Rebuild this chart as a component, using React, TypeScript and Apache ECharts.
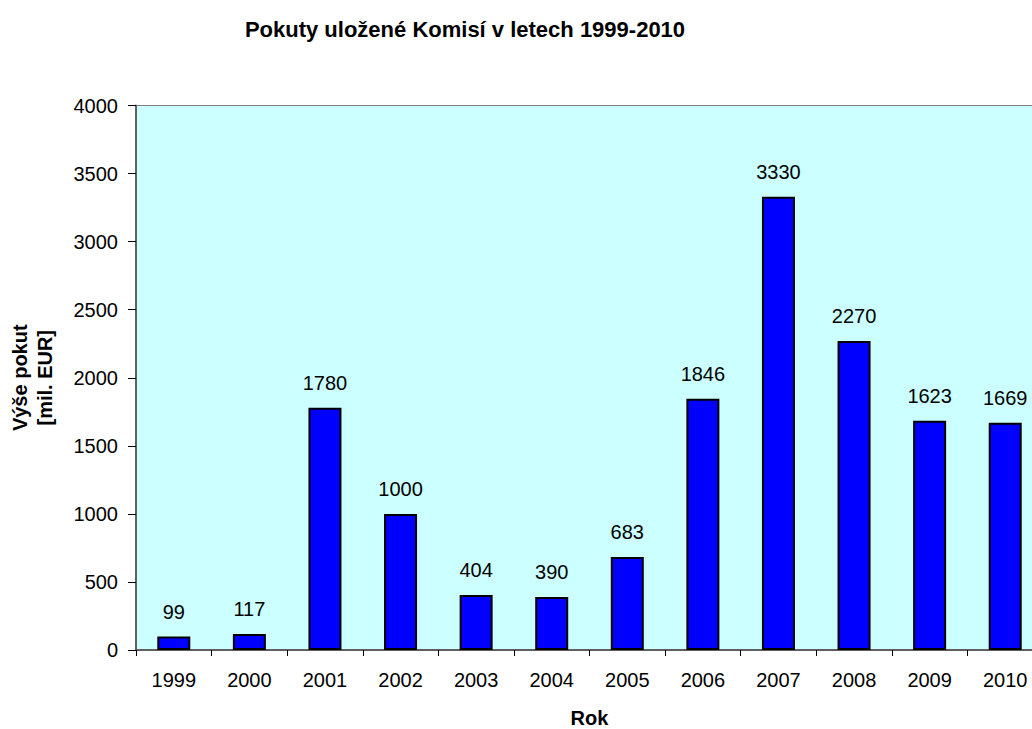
import React, { useEffect, useRef } from "react";
import * as echarts from "echarts";

const years = ["1999", "2000", "2001", "2002", "2003", "2004", "2005", "2006", "2007", "2008", "2009", "2010"];
const barValues = [99, 117, 1780, 1000, 404, 390, 683, 1846, 3330, 2270, 1685, 1669];
const barLabels = ["99", "117", "1780", "1000", "404", "390", "683", "1846", "3330", "2270", "1623", "1669"];
const yTicks = { min: 0, max: 4000, interval: 500 };

export default function App() {
  const ref = useRef<HTMLDivElement>(null);
  useEffect(() => {
    document.body.style.margin = "0";
    const chart = echarts.init(ref.current!, null, { renderer: "svg" });
    const font = "Arial, 'Liberation Sans', sans-serif";
    chart.setOption({
      animation: false,
      backgroundColor: "#ffffff",
      title: {
        text: "Pokuty uložené Komisí v letech 1999-2010",
        left: 460,
        top: 13,
        textAlign: "center",
        textStyle: { fontFamily: font, fontSize: 22, fontWeight: "bold", color: "#000" },
      },
      grid: {
        left: 136,
        top: 105.5,
        width: 907,
        height: 544.5,
        show: true,
        backgroundColor: "#CCFFFF",
        borderColor: "#808080",
        borderWidth: 1,
        outerBoundsMode: "none",
      },
      xAxis: {
        type: "category",
        data: years,
        name: "Rok",
        nameLocation: "middle",
        nameGap: 58,
        nameTextStyle: { fontFamily: font, fontSize: 20, fontWeight: "bold", color: "#000" },
        axisLine: { lineStyle: { color: "#606060", width: 2 } },
        axisTick: { show: true, length: 6, lineStyle: { color: "#000" } },
        axisLabel: { fontFamily: font, fontSize: 20, color: "#000", margin: 20 },
      },
      yAxis: {
        type: "value",
        min: yTicks.min,
        max: yTicks.max,
        interval: yTicks.interval,
        name: "Výše pokut\n[mil. EUR]",
        nameLocation: "middle",
        nameGap: 79,
        nameRotate: 90,
        nameTextStyle: { fontFamily: font, fontSize: 20, fontWeight: "bold", color: "#000", lineHeight: 25 },
        axisLine: { show: true, lineStyle: { color: "#606060", width: 2 } },
        axisTick: { show: true, length: 8, lineStyle: { color: "#000" } },
        splitLine: { show: false },
        axisLabel: { fontFamily: font, fontSize: 20, color: "#000", margin: 18, formatter: (v: number) => String(v) },
      },
      series: [
        {
          type: "bar",
          data: barValues,
          barWidth: 33,
          itemStyle: { color: "#0000FF", borderColor: "#000", borderWidth: 2 },
          label: {
            show: true,
            position: "top",
            distance: 15,
            fontFamily: font,
            fontSize: 20,
            color: "#000",
            formatter: (p: any) => barLabels[p.dataIndex],
          },
        },
      ],
    });
    return () => chart.dispose();
  }, []);
  return <div ref={ref} style={{ width: 1032, height: 729 }} />;
}
